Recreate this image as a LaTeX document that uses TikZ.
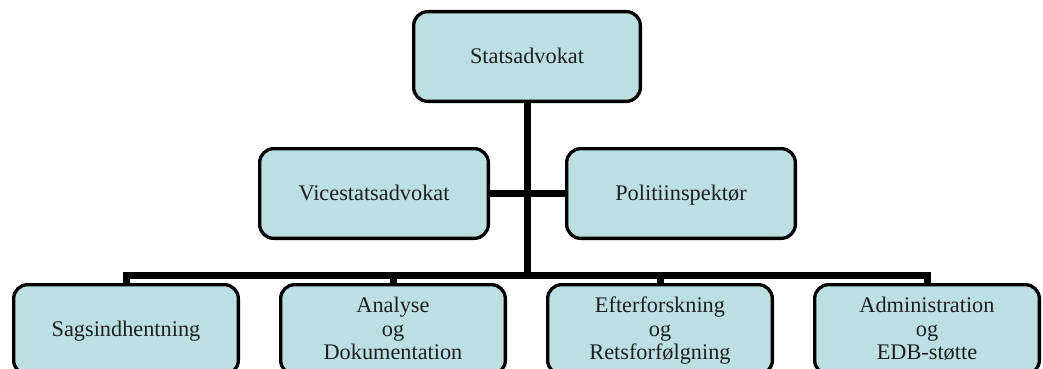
\documentclass[tikz,border=0pt]{standalone}
\usepackage{fontspec}
\setmainfont{Liberation Serif}
\definecolor{boxblue}{RGB}{188,223,228}
\begin{document}
\begin{tikzpicture}[x=1pt,y=-1pt,
  orgbox/.style={draw=black, line width=3.3pt, fill=boxblue, rounded corners=14pt,
    minimum height=89.7pt, inner sep=0pt, align=center, text depth=0.22em,
    font=\fontsize{22.3}{23.5}\selectfont, text=black!88},
  conn/.style={line width=7pt, line join=miter}]
\useasboundingbox (0,0) rectangle (1043,369);
\clip (0,0) rectangle (1043,369);
\node[orgbox, minimum width=226.7pt] (top) at (527,56.5) {Statsadvokat};
\node[orgbox, minimum width=228.7pt] (vice) at (374,193.5) {Vicestatsadvokat};
\node[orgbox, minimum width=228.7pt] (poli) at (681,193.5) {Politiinspektør};
\node[orgbox, minimum width=224.7pt] (b1) at (126,329.5) {Sagsindhentning};
\node[orgbox, minimum width=224.7pt] (b2) at (393,329.5) {Analyse\\og\\Dokumentation};
\node[orgbox, minimum width=224.7pt] (b3) at (660,329.5) {Efterforskning\\og\\Retsforfølgning};
\node[orgbox, minimum width=224.7pt] (b4) at (927,329.5) {Administration\\og\\EDB-støtte};
\coordinate (bus) at (527,275.5);
\draw[conn] (top.south) -- (top.south |- bus);
\draw[conn] (vice.east) -- (poli.west);
\draw[conn] (b1.north) -- (b1.north |- bus) -- (b4.north |- bus) -- (b4.north);
\draw[conn] (b2.north) -- (b2.north |- bus);
\draw[conn] (b3.north) -- (b3.north |- bus);
\end{tikzpicture}
\end{document}
